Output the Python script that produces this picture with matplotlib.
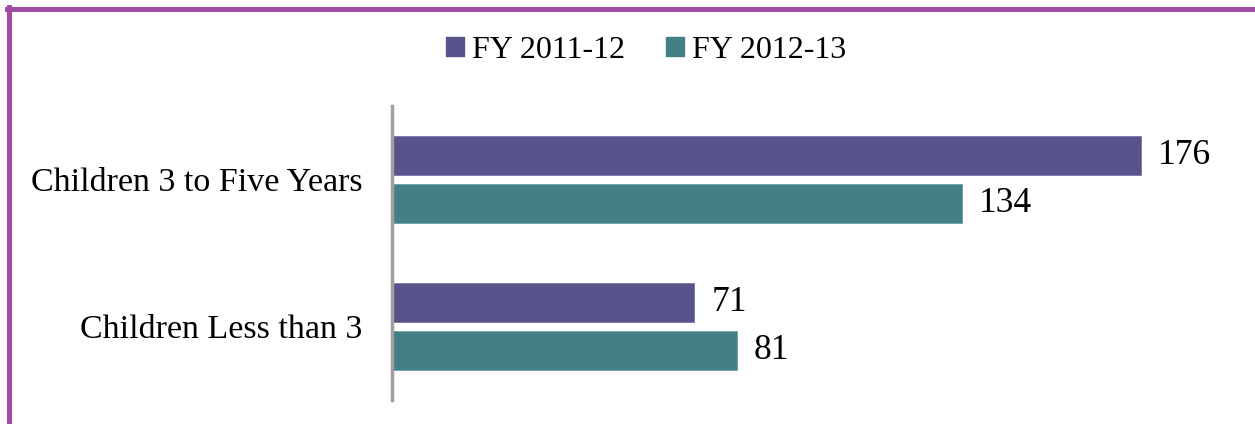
import matplotlib.pyplot as plt
from matplotlib.lines import Line2D
from matplotlib.patches import Patch

categories = ['Children Less than 3', 'Children 3 to Five Years']
fy_2011_12 = [71, 176]
fy_2012_13 = [81, 134]
series_names = ['FY 2011-12', 'FY 2012-13']

purple = '#56548A'
teal = '#447F83'
border = '#A24DA3'

W, H = 1255, 424
fig = plt.figure(figsize=(W / 100, H / 100), dpi=100)
plt.rcParams['font.family'] = ['Liberation Serif', 'DejaVu Serif']
fs = 24.5

ax = fig.add_axes([392 / W, 24 / H, 851 / W, 294 / H])
y = range(len(categories))
h = 0.26
off = 0.163
ax.barh([i + off for i in y], fy_2011_12, height=h, color=purple, edgecolor='#7A79A6', linewidth=0.6)
ax.barh([i - off for i in y], fy_2012_13, height=h, color=teal, edgecolor='#6E9FA3', linewidth=0.6)

for i in y:
    ax.text(fy_2011_12[i] + 4, i + off, str(fy_2011_12[i]), va='center', ha='left', fontsize=fs + 1)
    ax.text(fy_2012_13[i] + 4, i - off, str(fy_2012_13[i]), va='center', ha='left', fontsize=fs + 1)

ax.set_xlim(0, 200)
ax.set_ylim(-0.5, 1.5)
ax.set_yticks(list(y))
ax.set_yticklabels(categories, fontsize=fs)
ax.tick_params(axis='y', length=0, pad=21.5)
ax.set_xticks([])
for s in ['top', 'right', 'bottom']:
    ax.spines[s].set_visible(False)
ax.spines['left'].set_color('#A0A0A0')
ax.spines['left'].set_linewidth(2.5)

handles = [Patch(color=purple), Patch(color=teal)]
fig.legend(handles, series_names, loc='center', bbox_to_anchor=(646 / W, 1 - 50 / H),
           ncol=2, frameon=False, fontsize=23, handlelength=0.55, handleheight=0.55,
           handletextpad=0.25, columnspacing=1.3)

# purple frame (top and left edges)
fig.add_artist(Line2D([7 / W, 1], [1 - 9 / H, 1 - 9 / H], color=border, linewidth=3.6, transform=fig.transFigure))
fig.add_artist(Line2D([9 / W, 9 / W], [0, 1 - 7 / H], color=border, linewidth=3.6, transform=fig.transFigure))

fig.savefig('out.png', dpi=100)
